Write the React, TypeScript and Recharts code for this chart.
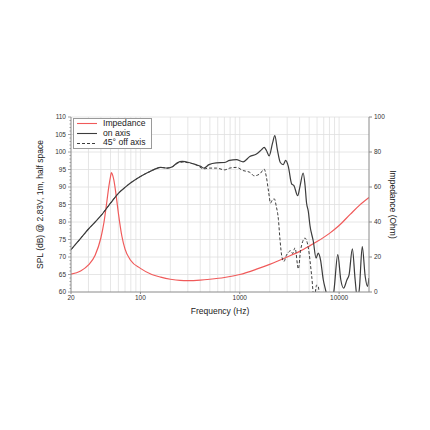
import React from 'react';
import {
  LineChart, Line, XAxis, YAxis, ReferenceLine, Legend, Label
} from 'recharts';

// impedance curve (Ohm, right axis)
const impFreq = [20, 25, 30, 35, 40, 43, 46, 48, 50, 51, 52, 54, 57, 60, 65, 70, 80, 100, 130, 160, 200, 250, 300, 400, 500, 700, 1000, 1500, 2000, 3000, 4000, 5000, 6000, 8000, 10000, 13000, 16000, 20000];
const impOhm = [10.2, 12, 15.5, 21, 31, 40, 52, 60, 66, 68.2, 67.5, 64, 55, 45, 32, 24.5, 18, 13.5, 10, 8.5, 7.3, 6.6, 6.5, 6.8, 7.3, 8.3, 10, 13.2, 15.8, 20, 23.2, 26.2, 28.8, 33.5, 38, 44.5, 49.5, 54];

// on axis SPL (dB)
const onFreq = [20, 25, 30, 35, 40, 50, 60, 70, 80, 100, 120, 140, 160, 186, 210, 235, 264, 308, 360, 404, 436, 490, 580, 700, 790, 926, 1080, 1262, 1473, 1650, 1760, 1850, 1977, 2140, 2254, 2390, 2560, 2740, 2900, 3080, 3330, 3510, 3830, 4040, 4350, 4540, 4700, 4900, 5090, 5500, 5860, 6170, 6500, 6930, 7390, 7900, 8400, 8900, 9700, 10400, 11100, 12000, 12600, 13600, 14500, 15300, 16000, 17100, 18300, 19300, 20000];
const onSpl = [72.1, 75.3, 78, 80, 81.8, 85.4, 88.2, 89.9, 91.2, 93, 94.2, 95.1, 95.6, 95.4, 95.8, 96.9, 97.3, 97, 96.4, 95.9, 95.4, 96.4, 96.9, 97, 97.6, 97.8, 97.2, 98.7, 99.4, 100.6, 101.3, 100.5, 98.9, 102.6, 104.7, 100.7, 97, 96.4, 97.6, 95.9, 90.9, 90.4, 87.5, 90.2, 94, 90.5, 85.5, 83, 79, 74.5, 69.7, 71.1, 69.2, 63.5, 60, 56, 56, 60.7, 70.7, 63.5, 61.1, 63.5, 64.9, 72.3, 63.5, 58, 61, 73, 64.5, 61.6, 64];

// 45 deg off axis SPL (dB)
const offFreq = [20, 25, 30, 35, 40, 50, 60, 70, 80, 100, 120, 140, 160, 186, 210, 235, 264, 308, 360, 436, 490, 580, 706, 792, 926, 1080, 1262, 1400, 1600, 1760, 1850, 1950, 2040, 2140, 2230, 2330, 2450, 2540, 2650, 2780, 2950, 3080, 3250, 3400, 3600, 3890, 4100, 4540, 4900, 5300, 5600, 5950, 6170, 6420, 7000];
const offSpl = [72.1, 75.3, 78, 80, 81.8, 85.4, 88.2, 89.9, 91.2, 93, 94.2, 95.1, 95.6, 95.4, 95.8, 96.8, 97.1, 96.9, 96.4, 95.2, 95.4, 95.4, 94.9, 95.4, 95.6, 94.7, 94.2, 93.2, 93.8, 95.1, 93, 88.7, 85.4, 86.4, 86.6, 84.5, 80.7, 75, 70.2, 68.7, 70.5, 71.3, 71.8, 71, 72.6, 66.6, 72, 75.4, 72.6, 64.5, 58, 62, 61.6, 57, 52];

const seriesNames = ['Impedance', 'on axis', '45° off axis'];
const freqTicks = [20, 100, 1000, 10000];
const splTicks = [60, 61, 62, 63, 64, 65, 66, 67, 68, 69, 70, 71, 72, 73, 74, 75, 76, 77, 78, 79, 80, 81, 82, 83, 84, 85, 86, 87, 88, 89, 90, 91, 92, 93, 94, 95, 96, 97, 98, 99, 100, 101, 102, 103, 104, 105, 106, 107, 108, 109, 110];
const impTicks = [0, 20, 40, 60, 80, 100];
const gridFreqs = [30, 40, 50, 60, 70, 80, 90, 100, 200, 300, 400, 500, 600, 700, 800, 900, 1000, 2000, 3000, 4000, 5000, 6000, 7000, 8000, 9000, 10000];
const gridDb = [65, 70, 75, 80, 85, 90, 95, 100, 105, 110];

const toPoints = (fs: number[], vs: number[]) => fs.map((f, i) => ({ f, v: vs[i] }));

const impData = toPoints(impFreq, impOhm);
const onData = toPoints(onFreq, onSpl);
const offData = toPoints(offFreq, offSpl);

const FONT = '"Liberation Sans", Arial, sans-serif';
const AXIS = '#8a8a8a';
const GRID = '#e0e0e0';

// left axis tick: label every 5 dB, short mark for every dB
const SplTick = (props: any) => {
  const { x, y, payload } = props;
  const major = payload.value % 5 === 0;
  const ax = x + 5;
  return (
    <g>
      <line x1={ax - (major ? 3 : 1.5)} y1={y} x2={ax} y2={y} stroke={AXIS} strokeWidth={0.8} />
      {major && (
        <text x={x} y={y} dy={2.3} textAnchor="end" fontSize={6.5} fill="#333" fontFamily={FONT}>
          {payload.value}
        </text>
      )}
    </g>
  );
};

const LegendBox = (props: any) => {
  const items = [...(props.payload || [])].sort(
    (a: any, b: any) => seriesNames.indexOf(a.value) - seriesNames.indexOf(b.value)
  );
  return (
    <div style={{
      background: '#fff', border: '1px solid #9a9a9a', padding: '0 5px 0 2px',
      fontFamily: FONT, fontSize: 8.6, lineHeight: '9.7px', color: '#222'
    }}>
      {items.map((it: any) => (
        <div key={it.value} style={{ display: 'flex', alignItems: 'center', height: 9.7 }}>
          <svg width={22} height={9} style={{ marginRight: 5 }}>
            <line x1={1} y1={4.5} x2={21} y2={4.5} stroke={it.color} strokeWidth={1.1}
              strokeDasharray={it.payload && it.payload.strokeDasharray} />
          </svg>
          <span>{it.value}</span>
        </div>
      ))}
    </div>
  );
};

export default function App() {
  return (
    <div style={{ position: 'absolute', left: 0, top: 0, width: 430, height: 430, background: '#fff' }}>
      <LineChart width={430} height={430} margin={{ top: 117, right: 31, bottom: 118, left: 41 }}>
        <XAxis
          type="number"
          dataKey="f"
          scale="log"
          domain={[20, 20000]}
          ticks={freqTicks}
          interval={0}
          allowDataOverflow
          height={20}
          stroke={AXIS}
          tickSize={2}
          tickMargin={1}
          tick={{ fontSize: 6.5, fill: '#333', fontFamily: FONT }}
        >
          <Label value="Frequency (Hz)" position="insideBottom" offset={-2}
            style={{ fontSize: 8.5, fill: '#222', fontFamily: FONT }} />
        </XAxis>
        <YAxis
          yAxisId="spl"
          type="number"
          domain={[60, 110]}
          ticks={splTicks}
          interval={0}
          allowDataOverflow
          width={30}
          stroke={AXIS}
          tickLine={false}
          tickSize={3}
          tickMargin={2}
          tick={<SplTick />}
        >
          <Label value="SPL (dB) @ 2.83V, 1m, half space" angle={-90} position="insideLeft" offset={-1}
            style={{ fontSize: 8.5, fill: '#222', fontFamily: FONT, textAnchor: 'middle' }} />
        </YAxis>
        <YAxis
          yAxisId="imp"
          orientation="right"
          type="number"
          domain={[0, 100]}
          ticks={impTicks}
          interval={0}
          allowDataOverflow
          width={30}
          stroke={AXIS}
          tickSize={3}
          tickMargin={2}
          tick={{ fontSize: 6.5, fill: '#333', fontFamily: FONT }}
        >
          <Label value="Impedance (Ohm)" angle={90} position="insideRight" offset={6}
            style={{ fontSize: 8.5, fill: '#222', fontFamily: FONT, textAnchor: 'middle' }} />
        </YAxis>
        {gridFreqs.map(f => (
          <ReferenceLine key={'gx' + f} x={f} yAxisId="spl" stroke={GRID} strokeWidth={0.8} />
        ))}
        {gridDb.map(v => (
          <ReferenceLine key={'gy' + v} y={v} yAxisId="spl" stroke={GRID} strokeWidth={0.8} />
        ))}
        <Legend
          layout="horizontal"
          verticalAlign="middle"
          align="center"
          content={<LegendBox />}
          wrapperStyle={{ left: 73, top: 118, width: 'auto' }}
        />
        <Line yAxisId="imp" data={impData} dataKey="v" name="Impedance" type="monotone"
          stroke="#f05a5a" strokeWidth={1.2} dot={false} isAnimationActive={false} />
        <Line yAxisId="spl" data={onData} dataKey="v" name="on axis" type="monotone"
          stroke="#3c3c3c" strokeWidth={1.2} dot={false} isAnimationActive={false} />
        <Line yAxisId="spl" data={offData} dataKey="v" name="45° off axis" type="monotone"
          stroke="#3c3c3c" strokeWidth={1} strokeDasharray="3 2" dot={false} isAnimationActive={false} />
      </LineChart>
    </div>
  );
}
